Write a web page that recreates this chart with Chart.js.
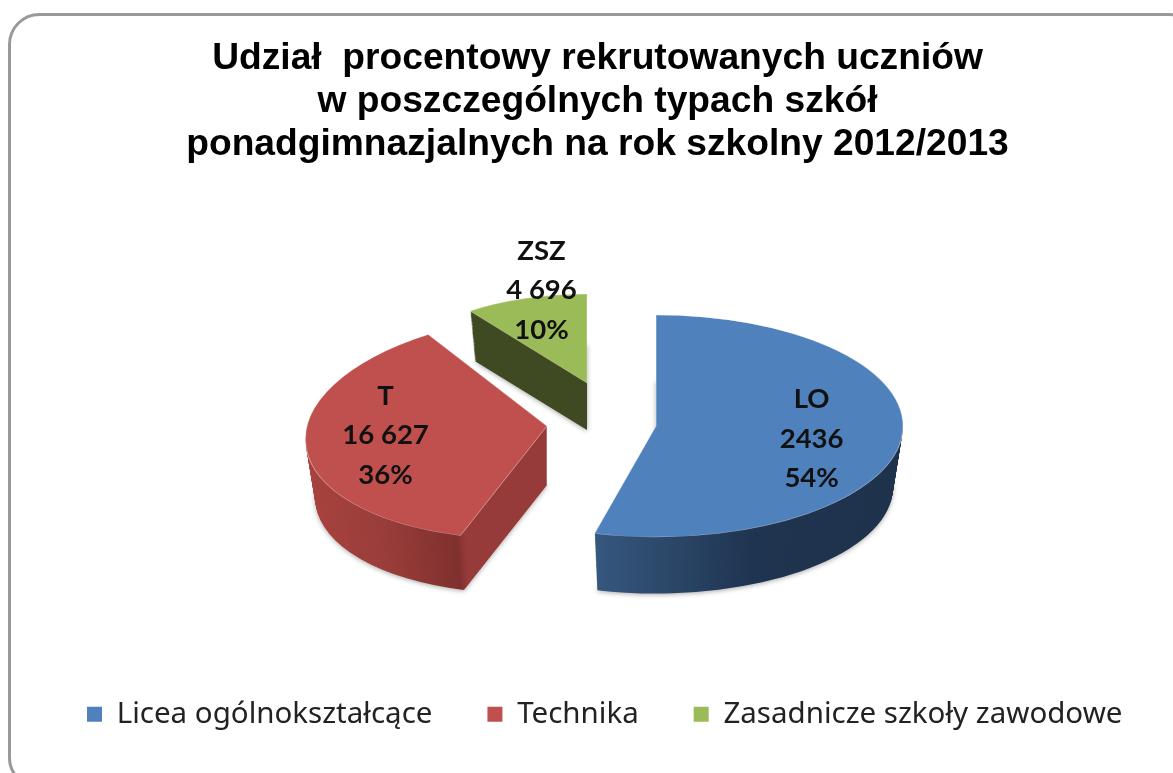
<!DOCTYPE html>
<html lang="pl">
<head>
<meta charset="utf-8">
<title>Udział procentowy</title>
<style>html,body{margin:0;padding:0;background:#fff}canvas{display:block}</style>
<script src="https://cdn.jsdelivr.net/npm/chart.js@4/dist/chart.umd.js"></script>
</head>
<body>
<canvas id="c" width="1173" height="773"></canvas>
<script>
const categories = ['Licea ogólnokształcące', 'Technika', 'Zasadnicze szkoły zawodowe'];
const shortNames = ['LO', 'T', 'ZSZ'];
const countLabels = ['2436', '16 627', '4 696'];
const percentValues = [54, 36, 10];
const titleLines = ['Udział  procentowy rekrutowanych uczniów', 'w poszczególnych typach szkół', 'ponadgimnazjalnych na rok szkolny 2012/2013'];

const topColors = ['#4f81bd', '#c0504d', '#9bbb59'];
const sideStops = [
  [[0, '#36587f'], [0.37, '#36587f'], [0.7, '#1f3450'], [1, '#1f324c']],
  [[0, '#a8433f'], [0.2, '#9a3d3a'], [0.368, '#7f302e'], [0.382, '#963b39'], [1, '#963b39']],
  [[0, '#3f4a22'], [1, '#3f4a22']]
];
// projected placement of each exploded slice (3-D perspective look)
const apexX = [656, 547, 587];
const apexY = [426, 426, 383];
const radiusX = [247, 240, 199];
const radiusY = [111, 113, 89];
const shear = [0, -0.245, 0];
const depth = [61, 59, 47];
const drawOrder = [2, 1, 0];
const labelReach = [0.635, 0.67, 0.74];
const labelNudgeY = [4, -5, -30];
const legendShiftX = 10;

const pie3d = {
  id: 'pie3d',
  afterLayout(chart) {
    chart.legend.left += legendShiftX;
    chart.legend.right += legendShiftX;
  },
  beforeDraw(chart) {
    const ctx = chart.ctx;
    ctx.save();
    ctx.fillStyle = '#fff';
    ctx.fillRect(0, 0, chart.width, chart.height);
    ctx.beginPath();
    ctx.roundRect(9.5, 14.5, 1190, 773, 30);
    ctx.lineWidth = 3;
    ctx.strokeStyle = '#999';
    ctx.stroke();
    ctx.restore();
  },
  beforeDatasetDraw(chart, args) {
    const ctx = chart.ctx;
    const arcs = args.meta.data;
    const place = (i, arc, d, s) => {
      const R = arc.outerRadius;
      ctx.translate(apexX[i], apexY[i] + d);
      ctx.transform(1, 0, shear[i], 1, 0, 0);
      ctx.scale(s * radiusX[i] / R, s * radiusY[i] / R);
      ctx.translate(-arc.x, -arc.y);
    };
    const paint = (arc, extra) => {
      const saved = arc.options;
      arc.options = Object.assign({}, saved, extra);
      arc.draw(ctx);
      arc.options = saved;
    };
    drawOrder.forEach(i => {
      const arc = arcs[i];
      const R = arc.outerRadius;
      const grad = ctx.createLinearGradient(arc.x - R, 0, arc.x + R, 0);
      sideStops[i].forEach(st => grad.addColorStop(st[0], st[1]));
      for (let d = depth[i]; d >= 1; d--) {
        ctx.save();
        if (d === depth[i]) {
          ctx.shadowColor = 'rgba(0,0,0,0.35)';
          ctx.shadowBlur = 5;
          ctx.shadowOffsetY = 1;
        }
        place(i, arc, d, 1 - 0.04 * d / depth[i]);
        paint(arc, { backgroundColor: grad, borderWidth: 0 });
        ctx.restore();
      }
      ctx.save();
      place(i, arc, 0, 1);
      paint(arc, { backgroundColor: topColors[i], borderColor: 'rgba(255,255,255,0.45)', borderWidth: 1 });
      ctx.restore();
    });
    return false;
  },
  afterDatasetsDraw(chart) {
    const ctx = chart.ctx;
    const arcs = chart.getDatasetMeta(0).data;
    ctx.save();
    ctx.font = '700 27.5px Lato';
    ctx.fillStyle = '#111';
    ctx.textAlign = 'center';
    ctx.textBaseline = 'middle';
    arcs.forEach((arc, i) => {
      const mid = (arc.startAngle + arc.endAngle) / 2;
      const u = Math.cos(mid) * labelReach[i], v = Math.sin(mid) * labelReach[i];
      const x = apexX[i] + u * radiusX[i] + shear[i] * v * radiusY[i];
      const y = apexY[i] + v * radiusY[i] + labelNudgeY[i];
      [shortNames[i], countLabels[i], percentValues[i] + '%'].forEach((t, k) => {
        ctx.fillText(t, x, y + (k - 1) * 39.5);
      });
    });
    ctx.restore();
  }
};

new Chart(document.getElementById('c'), {
  type: 'pie',
  data: {
    labels: categories,
    datasets: [{ data: percentValues, backgroundColor: topColors, borderWidth: 0 }]
  },
  options: {
    responsive: false,
    animation: false,
    layout: { padding: { left: 22, right: 0, top: 0, bottom: 34 } },
    plugins: {
      tooltip: { enabled: false },
      title: {
        display: true,
        text: titleLines,
        color: '#000',
        font: { family: '"Liberation Sans"', size: 37.2, weight: 'bold', lineHeight: 1.16 },
        padding: { top: 37, bottom: 10 }
      },
      legend: {
        position: 'bottom',
        align: 'start',
        labels: {
          boxWidth: 15,
          boxHeight: 15,
          padding: 55,
          color: '#222',
          font: { family: '"Noto Sans"', size: 29.5 }
        }
      }
    }
  },
  plugins: [pie3d]
});
</script>
</body>
</html>
